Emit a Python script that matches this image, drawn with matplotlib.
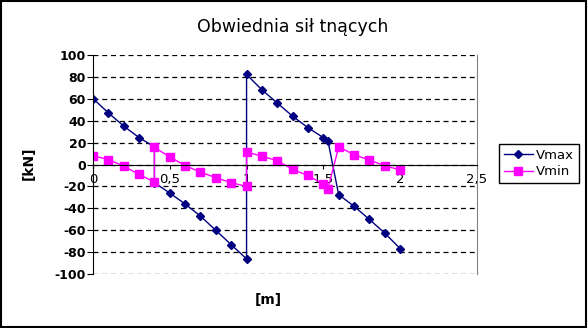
"""Obwiednia sił tnących - Vmax / Vmin envelope."""

from matplotlib import pyplot
from matplotlib.patches import Rectangle

# Shear-force envelope [m], [kN].
x_max = [0.0, 0.1, 0.2, 0.3, 0.4, 0.4, 0.5, 0.6, 0.7, 0.8, 0.9, 1.0, 1.0,
         1.1, 1.2, 1.3, 1.4, 1.5, 1.53, 1.6, 1.7, 1.8, 1.9, 2.0]
v_max = [60, 47, 35, 24.5, 16, -16.5, -26, -36, -47, -60, -73, -86, 82,
         68, 56, 44, 33.5, 24.5, 21.5, -27.5, -38, -50, -62.5, -76.5]

x_min = [0.0, 0.1, 0.2, 0.3, 0.4, 0.4, 0.5, 0.6, 0.7, 0.8, 0.9, 1.0, 1.0,
         1.1, 1.2, 1.3, 1.4, 1.5, 1.53, 1.6, 1.7, 1.8, 1.9, 2.0]
v_min = [8, 4.5, -1.5, -9, -16, 15.5, 7, -1, -7, -12, -16.5, -20, 11.5,
         7.5, 3.5, -4.5, -10, -18, -22, 16, 9, 4, -1, -5]

xticks = [0.0, 0.5, 1.0, 1.5, 2.0, 2.5]
xtick_labels = ['0', '0,5', '1', '1,5', '2', '2,5']
yticks = list(range(-100, 101, 20))

# Plain hyphen for negative numbers, like the original chart.
pyplot.rcParams['axes.unicode_minus'] = False

fig = pyplot.figure(figsize=(5.88, 3.28), dpi=100)
ax = fig.add_axes([0.1582, 0.1637, 0.811 - 0.1582, 0.8332 - 0.1637])

ax.plot(x_max, v_max, color='#000080', marker='D', markersize=4.5,
        linewidth=1.0, label='Vmax')
ax.plot(x_min, v_min, color='#ff00ff', marker='s', markersize=5.3,
        linewidth=1.0, label='Vmin')

ax.set_xlim(0.0, 2.5)
ax.set_ylim(-100, 100)
ax.set_xticks(xticks, xtick_labels)
ax.set_yticks(yticks)

# Excel-like axes: x axis through zero, grey right border, dashed grid.
ax.spines['bottom'].set_position(('data', 0))
ax.spines['bottom'].set_color('black')
ax.spines['left'].set_color('black')
ax.spines['top'].set_visible(False)
ax.spines['right'].set_color('#808080')
ax.yaxis.grid(True, color='black', linestyle=(0, (4, 3)), linewidth=0.9)
ax.set_axisbelow(True)
ax.tick_params(axis='x', direction='out', length=3, pad=3, labelsize=9.5)
ax.tick_params(axis='y', direction='out', length=4, pad=1, labelsize=9)
for lbl in ax.get_yticklabels():
    lbl.set_fontweight('bold')

fig.text(293 / 588, 1 - 27 / 328, 'Obwiednia sił tnących', ha='center',
         va='center', fontsize=12.5)
fig.text(29 / 588, 1 - 163 / 328, '[kN]', rotation=90, ha='center',
         va='center', fontsize=10, fontweight='bold')
fig.text(268 / 588, 1 - 300 / 328, '[m]', ha='center', va='center',
         fontsize=10, fontweight='bold')

leg = ax.legend(loc='center left', bbox_to_anchor=(499 / 588, 1 - 163.5 / 328),
                bbox_transform=fig.transFigure, fontsize=9.5, fancybox=False,
                edgecolor='black', framealpha=1, borderpad=0.35,
                handlelength=2.2, handletextpad=0.25, labelspacing=0.3,
                borderaxespad=0)
leg.get_frame().set_linewidth(1.0)

# Border around the whole chart.
fig.patches.append(Rectangle((0.001, 0.003), 0.996, 0.995,
                             transform=fig.transFigure, fill=False,
                             edgecolor='black', linewidth=1.5))

fig.savefig('out.png', dpi=100)
